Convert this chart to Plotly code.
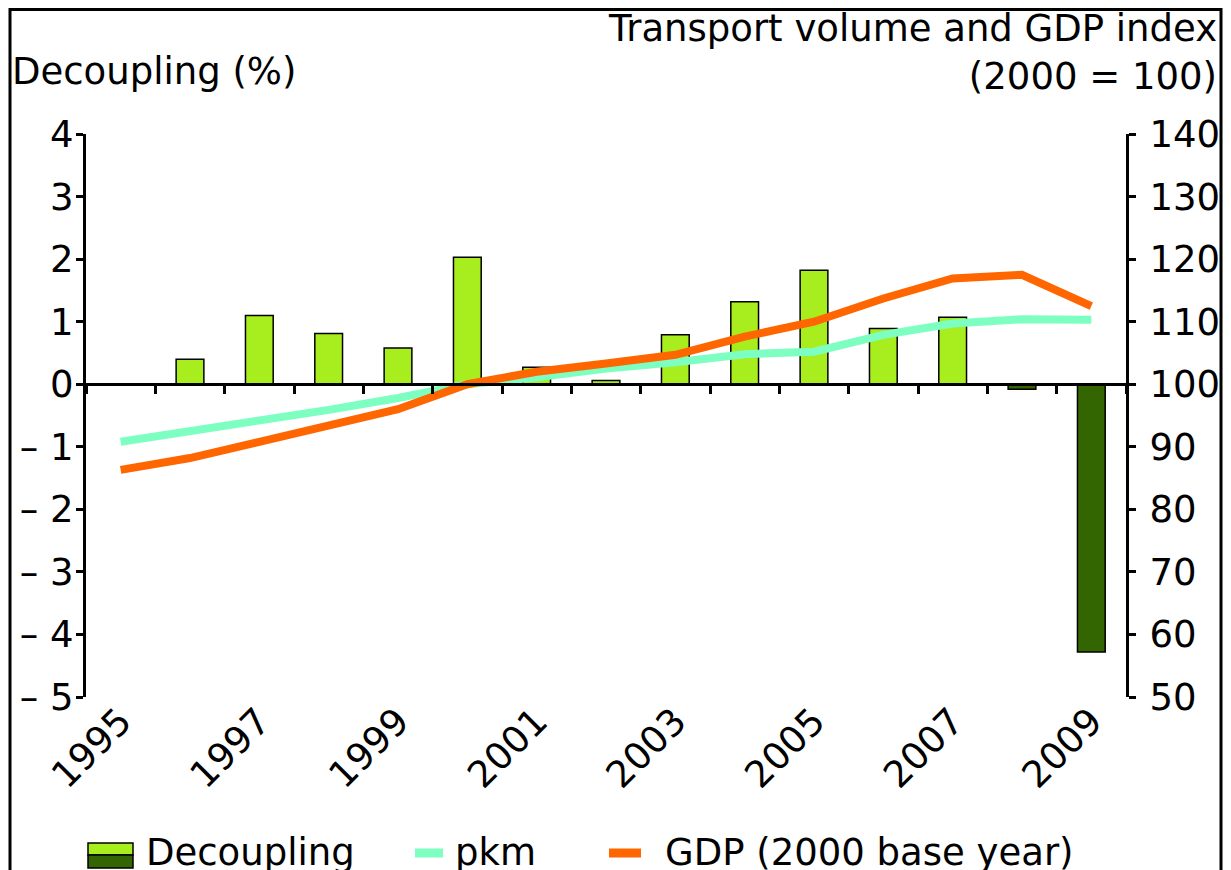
import plotly.graph_objects as go

years = [str(y) for y in range(1995, 2010)]
label_years = ["1995", "1997", "1999", "2001", "2003", "2005", "2007", "2009"]

# decoupling (%), no value for 1995
decoupling = [None, 0.40, 1.10, 0.81, 0.58, 2.03, 0.27, 0.06, 0.79, 1.32, 1.82, 0.89, 1.07, -0.08, -4.28]
# index 2000 = 100
pkm = [90.8, 92.4, 94.0, 95.9, 97.8, 100.0, 101.1, 102.5, 103.5, 104.8, 105.2, 107.9, 109.7, 110.4, 110.3]
gdp = [86.3, 88.2, 90.8, 93.5, 96.0, 100.0, 102.0, 103.3, 104.7, 107.6, 110.0, 113.7, 116.9, 117.5, 112.5]

left_ticks = [-5, -4, -3, -2, -1, 0, 1, 2, 3, 4]
left_ticktext = ["– 5", "– 4", "– 3", "– 2", "– 1", "0", "1", "2", "3", "4"]

LIGHT = "#A8EE1E"
DARK = "#336600"
AQUA = "#7DFFC2"
ORANGE = "#FF6600"
FONT = "DejaVu Sans"
FS = 37

# the page body adds an 8px margin, so work in page pixels and shift back
OFF = 8
W, H = 1231 - OFF, 870 - OFF
L, T = 86 - OFF, 134 - OFF
R, B = W - (1126 - OFF), H - (697 - OFF)
PW, PH = W - L - R, H - T - B


def px(x):
    return (x - OFF - L) / PW


def py(y):
    return (H - B - (y - OFF)) / PH


bar_colors = [DARK if (v is not None and v < 0) else LIGHT for v in decoupling]

fig = go.Figure()
fig.add_trace(go.Bar(
    x=years, y=decoupling, name="Decoupling", width=0.4,
    marker=dict(color=bar_colors, line=dict(color="black", width=1.5)),
    showlegend=False,
))
fig.add_trace(go.Scatter(
    x=years, y=pkm, name="pkm", xaxis="x2", yaxis="y2", mode="lines",
    line=dict(color=AQUA, width=8), showlegend=False,
))
fig.add_trace(go.Scatter(
    x=years, y=gdp, name="GDP (2000 base year)", xaxis="x2", yaxis="y2",
    mode="lines", line=dict(color=ORANGE, width=8), showlegend=False,
))

fig.update_layout(
    width=W, height=H,
    margin=dict(l=L, r=R, t=T, b=B, autoexpand=False),
    paper_bgcolor="white", plot_bgcolor="rgba(0,0,0,0)",
    font=dict(family=FONT, size=FS, color="black"),
    xaxis=dict(
        type="category", range=[-0.5, 14.5], tickvals=label_years,
        tickangle=-45, ticks="", showline=False, showgrid=False, zeroline=False,
        ticklabelstandoff=-6,
    ),
    xaxis2=dict(
        type="category", overlaying="x", anchor="free", position=5 / 9,
        range=[-0.5, 14.5], tickson="boundaries", ticks="outside", ticklen=8,
        tickwidth=3, tickcolor="black", showline=True, linewidth=3,
        linecolor="black", showticklabels=False, showgrid=False, zeroline=False,
    ),
    yaxis=dict(
        range=[-5, 4], tickvals=left_ticks, ticktext=left_ticktext,
        ticks="outside", ticklen=7, tickwidth=3, tickcolor="black",
        showline=True, linewidth=3, linecolor="black", ticklabelstandoff=-5,
        showgrid=False, zeroline=False,
    ),
    yaxis2=dict(
        overlaying="y", side="right", range=[50, 140], dtick=10,
        ticks="outside", ticklen=7, tickwidth=3, tickcolor="black",
        showline=True, linewidth=3, linecolor="black", ticklabelstandoff=6,
        showgrid=False, zeroline=False,
    ),
)

# outer frame (bottom runs off the picture)
fig.add_shape(type="rect", xref="paper", yref="paper",
              x0=px(10), x1=px(1221), y0=py(900), y1=py(9.5),
              line=dict(color="black", width=3), fillcolor="rgba(0,0,0,0)")

# axis titles
fig.add_annotation(text="Decoupling (%)", xref="paper", yref="paper",
                   x=px(10), y=py(71), xanchor="left", yanchor="middle",
                   showarrow=False, font=dict(size=FS))
fig.add_annotation(text="Transport volume and GDP index<br>(2000 = 100)",
                   xref="paper", yref="paper", x=px(1219), y=py(52),
                   xanchor="right", yanchor="middle", align="right",
                   showarrow=False, font=dict(size=FS))

# legend drawn by hand (two-tone swatch for Decoupling)
fig.add_shape(type="rect", xref="paper", yref="paper",
              x0=px(88), x1=px(133), y0=py(855), y1=py(843),
              fillcolor=LIGHT, line=dict(color="black", width=1.5))
fig.add_shape(type="rect", xref="paper", yref="paper",
              x0=px(88), x1=px(133), y0=py(868), y1=py(855),
              fillcolor=DARK, line=dict(color="black", width=1.5))
fig.add_shape(type="line", xref="paper", yref="paper",
              x0=px(415), x1=px(443), y0=py(853), y1=py(853),
              line=dict(color=AQUA, width=9))
fig.add_shape(type="line", xref="paper", yref="paper",
              x0=px(609), x1=px(641), y0=py(853), y1=py(853),
              line=dict(color=ORANGE, width=9))
for label, x in [("Decoupling", 144), ("pkm", 453), ("GDP (2000 base year)", 663)]:
    fig.add_annotation(text=label, xref="paper", yref="paper",
                       x=px(x), y=py(852), xanchor="left", yanchor="middle",
                       showarrow=False, font=dict(size=FS))

fig.write_html("out.html")
